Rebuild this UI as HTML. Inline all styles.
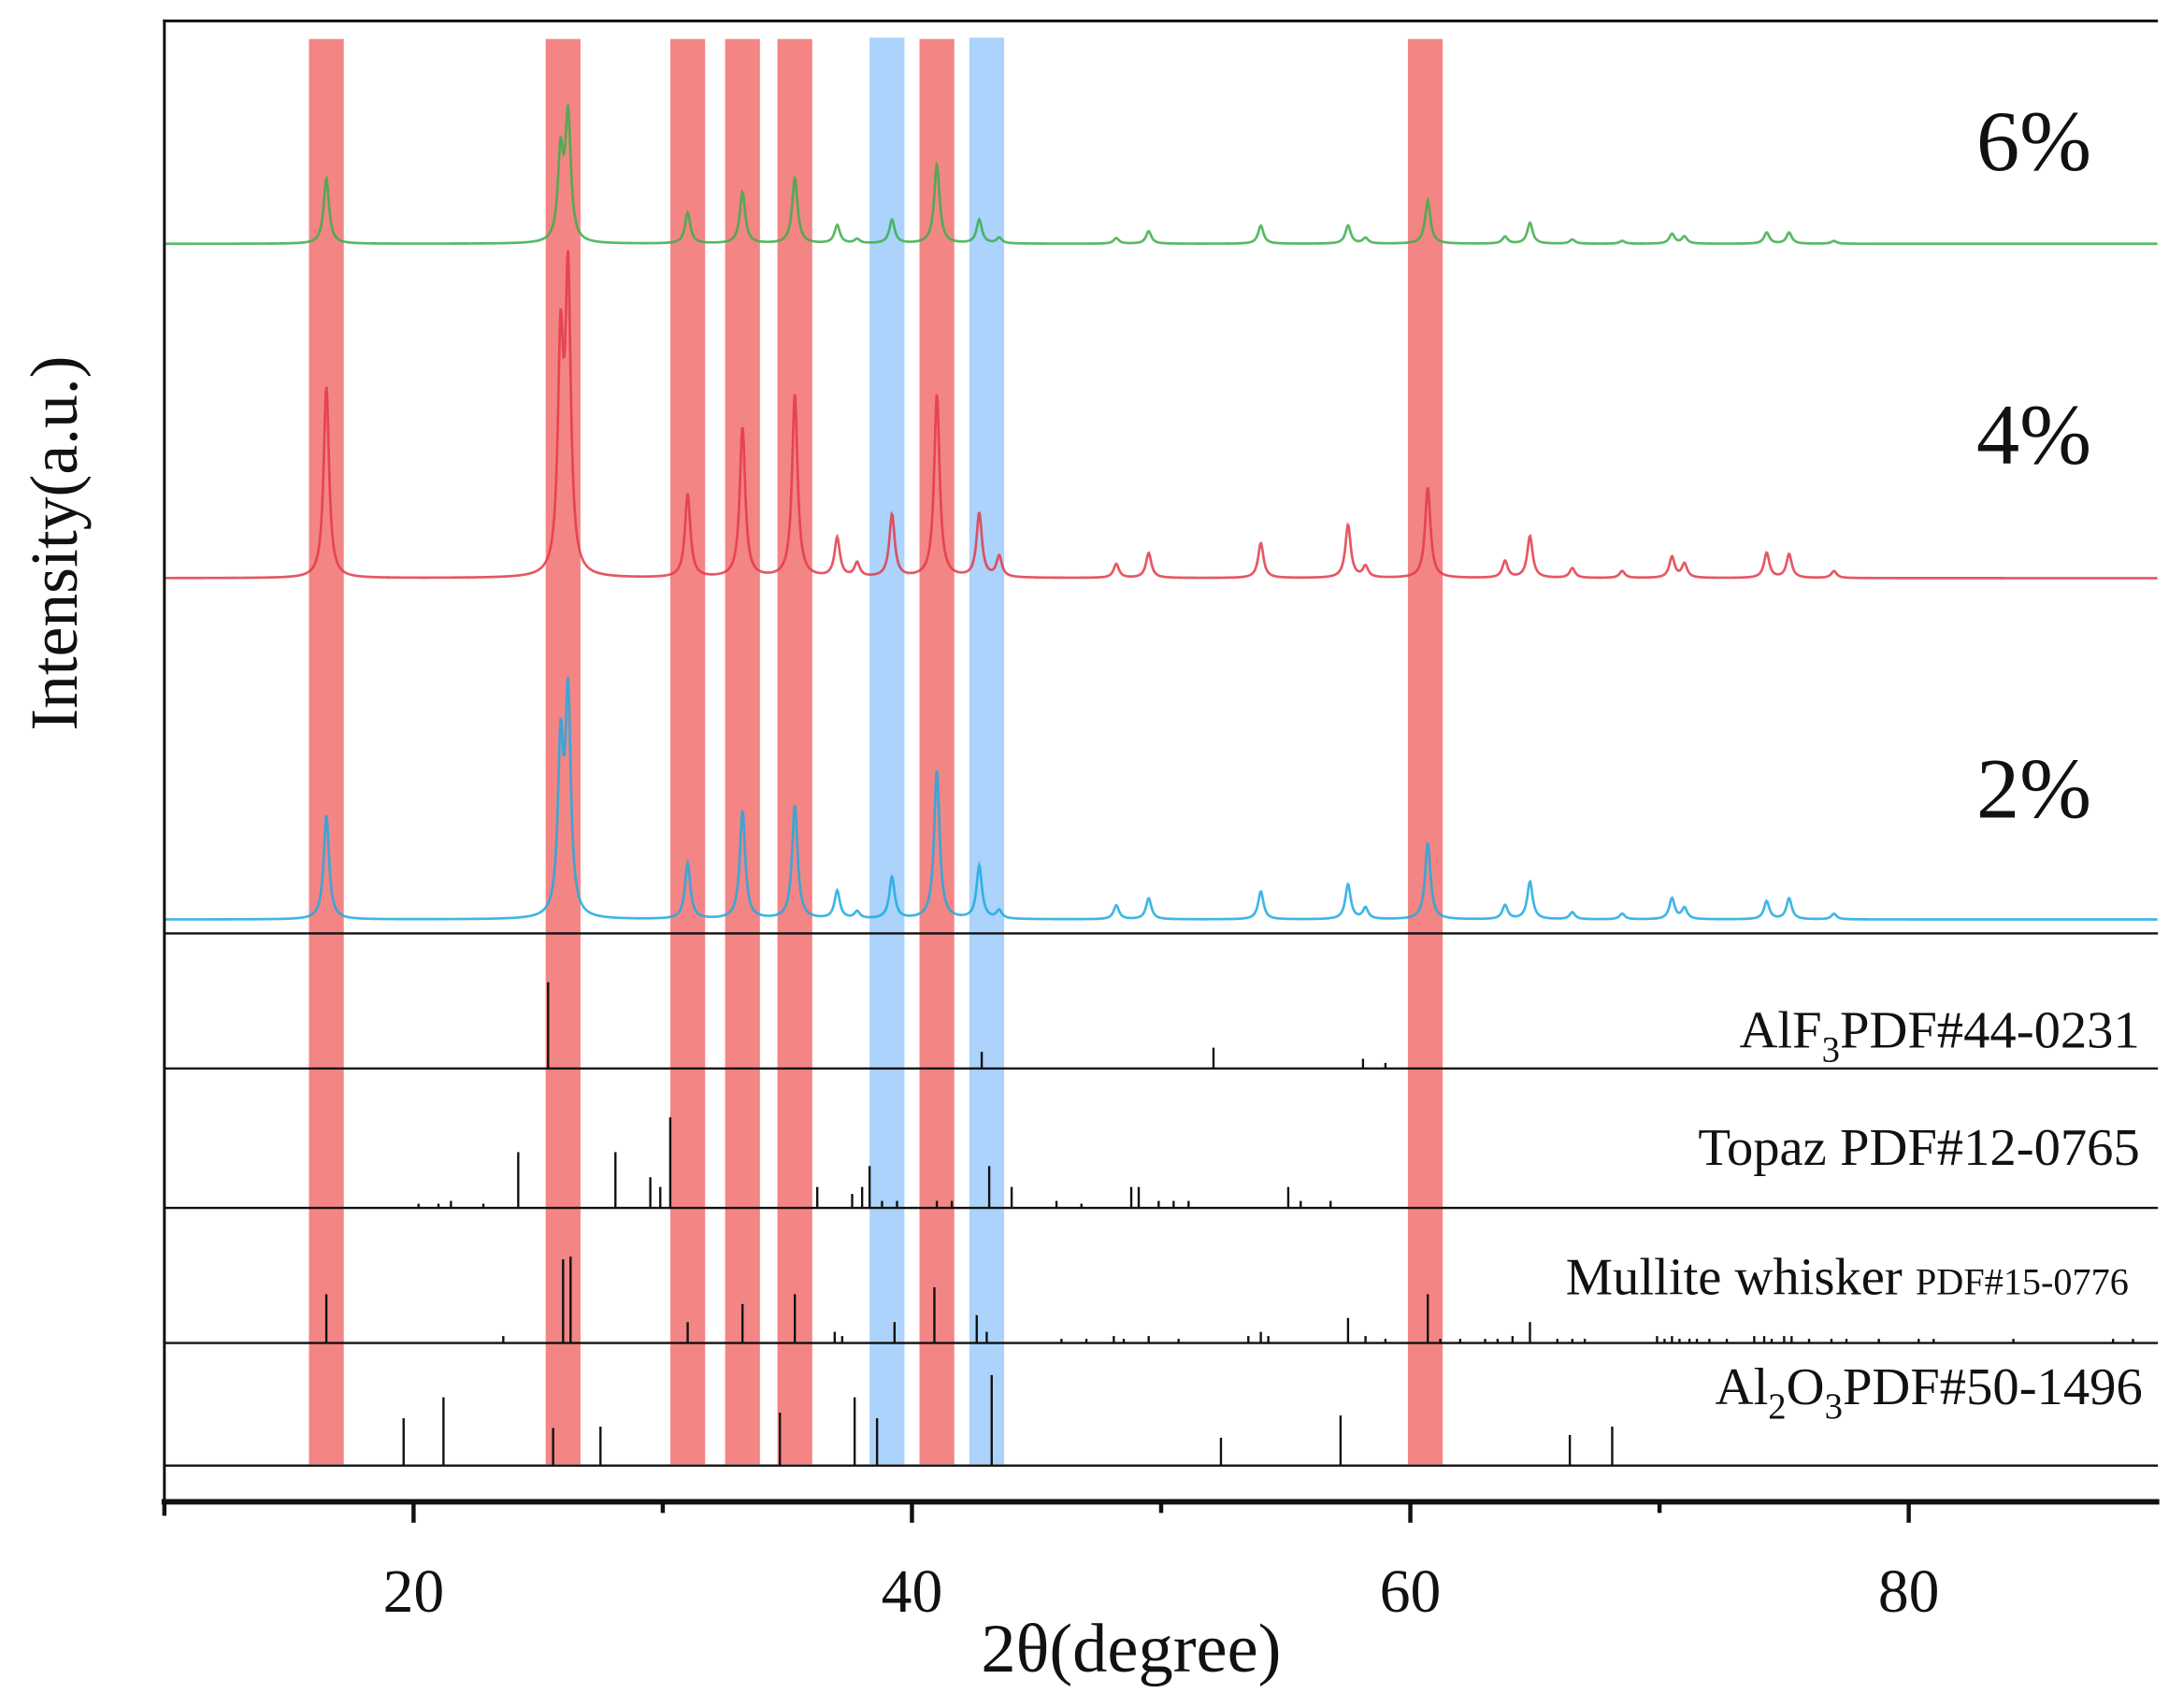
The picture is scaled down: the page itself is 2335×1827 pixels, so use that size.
<!DOCTYPE html>
<html><head><meta charset="utf-8"><style>
html,body{margin:0;padding:0;background:#fff;}
svg{display:block;}
text{font-family:"Liberation Serif",serif;fill:#111;}
</style></head><body>
<svg id="chart" width="2335" height="1827" viewBox="0 0 1567 1226" preserveAspectRatio="none" xmlns="http://www.w3.org/2000/svg">
<g id="bands"></g>
<g id="series"></g>
<g id="sticks"></g>
<g id="frame"></g>
<g id="labels"></g>
</svg>
<script>
// ---- data ----
const xTicks = [20, 40, 60, 80];
const xMinor = [30, 50, 70];
const redBands = [16.5, 26.0, 31.0, 33.2, 35.3, 41.0, 60.6];
const blueBands = [39.0, 43.0];
const peakPos = [16.5, 25.9, 26.2, 31.0, 33.2, 35.3, 37.0, 37.8, 39.2, 41.0, 42.7, 43.5, 48.2, 49.5, 54.0, 57.5, 58.2, 60.7, 63.8, 64.8, 66.5, 68.5, 70.5, 71.0, 74.3, 75.2, 77.0];
const peaks6 = [47, 62, 90, 22, 37, 47, 13, 3, 17, 57, 17, 4, 4, 9, 13, 13, 4, 31, 5, 15, 3, 2, 7, 5, 8, 8, 2];
const peaks4 = [138, 160, 210, 60, 108, 132, 28, 10, 45, 132, 46, 15, 10, 18, 25, 38, 8, 65, 12, 30, 7, 5, 15, 10, 18, 17, 5];
const peaks2 = [75, 120, 155, 40, 78, 82, 20, 5, 30, 107, 38, 6, 10, 15, 20, 25, 8, 55, 10, 27, 5, 4, 15, 8, 13, 15, 4];
const seriesNames = ["6%", "4%", "2%"];
const seriesBase = [175, 415, 660];
const alf3Pos = [25.4, 42.8, 52.1, 58.1, 59.0];
const alf3H = [62, 12, 15, 7, 4];
const topazPos = [20.2, 21.0, 21.5, 22.8, 24.2, 28.1, 29.5, 29.9, 30.3, 36.2, 37.6, 38.0, 38.3, 38.8, 39.4, 41.0, 41.6, 43.1, 44.0, 45.8, 46.8, 48.8, 49.1, 49.9, 50.5, 51.1, 55.1, 55.6, 56.8];
const topazH = [3, 3, 5, 3, 40, 40, 22, 15, 65, 15, 10, 15, 30, 5, 5, 5, 5, 30, 15, 5, 3, 15, 15, 5, 5, 5, 15, 5, 5];
const mullPos = [16.5, 23.6, 26.0, 26.3, 31.0, 33.2, 35.3, 36.9, 37.2, 39.3, 40.9, 42.6, 43.0, 46.0, 47.0, 48.1, 48.5, 49.5, 50.7, 53.5, 54.0, 54.3, 57.5, 58.2, 59.0, 60.7, 61.2, 62.0, 63.0, 63.5, 64.1, 64.8, 65.9, 66.5, 67.0, 69.9, 70.2, 70.5, 70.8, 71.2, 71.5, 72.0, 72.7, 73.8, 74.2, 74.5, 75.0, 75.3, 76.0, 76.9, 77.5, 78.8, 80.4, 81.0, 84.2, 88.2, 89.0];
const mullH = [35, 5, 60, 62, 15, 28, 35, 8, 5, 15, 40, 20, 8, 3, 3, 5, 3, 5, 3, 5, 8, 5, 18, 5, 3, 35, 3, 3, 3, 3, 5, 15, 3, 3, 3, 5, 3, 5, 3, 3, 3, 3, 3, 5, 5, 3, 5, 5, 3, 3, 3, 3, 3, 3, 3, 3, 3];
const al2o3Pos = [19.6, 21.2, 25.6, 27.5, 34.7, 37.7, 38.6, 43.2, 52.4, 57.2, 66.4, 68.1];
const al2o3H = [34, 49, 27, 28, 38, 49, 34, 65, 20, 36, 22, 28];

const X0 = 10, X1 = 90, PX0 = 118, PX1 = 1549;
function xs(v){ return PX0 + (v - X0) / (X1 - X0) * (PX1 - PX0); }
const NS = "http://www.w3.org/2000/svg";
function mk(tag, attrs, parent){
  const e = document.createElementNS(NS, tag);
  for (const k in attrs) e.setAttribute(k, attrs[k]);
  parent.appendChild(e); return e;
}
const gB = document.getElementById('bands'), gS = document.getElementById('series'),
      gK = document.getElementById('sticks'), gF = document.getElementById('frame'),
      gL = document.getElementById('labels');

redBands.forEach(b => {
  const r = mk('rect', {x: xs(b) - 12.5, y: 28, width: 25, height: 1023, fill: '#f37b7b', 'fill-opacity': 0.92}, gB);
  
  
});
blueBands.forEach(b => {
  const r = mk('rect', {x: xs(b) - 12.5, y: 27, width: 25, height: 1024, fill: '#a6d1fb', 'fill-opacity': 0.95}, gB);
  
  
});

const seriesData = [peaks6, peaks4, peaks2];
const colors = ['#3aae4a', '#e23a48', '#1ea9e1'];
seriesData.forEach((pk, si) => {
  let d = '';
  for (let v = X0; v <= X1; v += 0.03) {
    let y = 0;
    for (let i = 0; i < peakPos.length; i++) {
      const g = 0.13;
      const dx = (v - peakPos[i]) / g;
      y += pk[i] / (1 + dx * dx);
    }
    d += (d ? 'L' : 'M') + xs(v).toFixed(2) + ',' + (seriesBase[si] - y).toFixed(2);
  }
  const p = mk('path', {d: d, fill: 'none', stroke: colors[si], 'stroke-width': 1.8, 'stroke-opacity': 0.85}, gS);
  
  
});

const refs = [[alf3Pos, alf3H, 767, 'alf3'], [topazPos, topazH, 867, 'topaz'], [mullPos, mullH, 964, 'mullite'], [al2o3Pos, al2o3H, 1052, 'al2o3']];
refs.forEach(r => {
  const g = mk('g', {}, gK);
  
  
  r[0].forEach((p, i) => {
    mk('line', {x1: xs(p), x2: xs(p), y1: r[2], y2: r[2] - r[1][i], stroke: '#111', 'stroke-width': 1.6}, g);
  });
});

mk('line', {x1: 117, x2: 1549, y1: 15, y2: 15, stroke: '#111', 'stroke-width': 2}, gF);
[670, 767, 867, 964, 1052].forEach(y => {
  const l = mk('line', {x1: 118, x2: 1549, y1: y, y2: y, stroke: '#111', 'stroke-width': 1.6}, gF);
  
  
});
mk('line', {x1: 118, x2: 118, y1: 14, y2: 1080, stroke: '#111', 'stroke-width': 2}, gF);
const ax = mk('line', {x1: 116, x2: 1550, y1: 1078, y2: 1078, stroke: '#111', 'stroke-width': 4}, gF);


mk('line', {x1: 118, x2: 118, y1: 1078, y2: 1088, stroke: '#111', 'stroke-width': 3}, gF);
xTicks.forEach(t => {
  mk('line', {x1: xs(t), x2: xs(t), y1: 1078, y2: 1093, stroke: '#111', 'stroke-width': 3}, gF);
  const tx = mk('text', {x: xs(t), y: 1157, 'text-anchor': 'middle', 'font-size': 44}, gL);
  tx.textContent = t;
  
  
});
xMinor.forEach(t => mk('line', {x1: xs(t), x2: xs(t), y1: 1078, y2: 1086, stroke: '#111', 'stroke-width': 3}, gF));
</script>
<script>
(function(){
const NS = "http://www.w3.org/2000/svg";
const gL = document.getElementById('labels');
function t(x, y, size, anchor, html, name, extra){
  const e = document.createElementNS(NS, 'text');
  e.setAttribute('x', x); e.setAttribute('y', y); e.setAttribute('font-size', size);
  e.setAttribute('text-anchor', anchor);
  if (extra) for (const k in extra) e.setAttribute(k, extra[k]);
  e.innerHTML = html;
  
  
  gL.appendChild(e);
}
t(1460, 122, 62, 'middle', '6%', 'label-6pct');
t(1460, 333, 62, 'middle', '4%', 'label-4pct');
t(1460, 587, 62, 'middle', '2%', 'label-2pct');
t(1536, 752, 38, 'end', 'AlF<tspan font-size="26" dy="10">3</tspan><tspan dy="-10">PDF#44-0231</tspan>', 'label-alf3');
t(1536, 836, 38, 'end', 'Topaz PDF#12-0765', 'label-topaz');
t(1528, 929, 38, 'end', 'Mullite whisker <tspan font-size="27">PDF#15-0776</tspan>', 'label-mullite');
t(1538, 1008, 38, 'end', 'Al<tspan font-size="26" dy="10">2</tspan><tspan dy="-10">O</tspan><tspan font-size="26" dy="10">3</tspan><tspan dy="-10">PDF#50-1496</tspan>', 'label-al2o3');
t(812, 1200, 50, 'middle', '2θ(degree)', 'x-axis-title');
t(55, 390, 48, 'middle', 'Intensity(a.u.)', 'y-axis-title', {transform: 'rotate(-90 55 390)'});
})();
</script>
</body></html>
